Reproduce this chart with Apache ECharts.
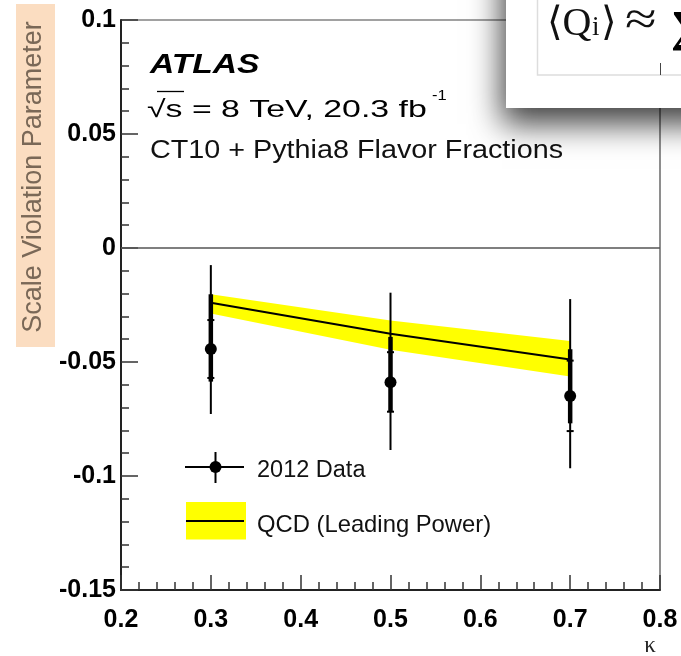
<!DOCTYPE html>
<html>
<head>
<meta charset="utf-8">
<script src="https://cdn.jsdelivr.net/npm/echarts@6/dist/echarts.min.js"></script>
<style>
html,body{margin:0;padding:0;background:#fff;}
#chart{width:681px;height:656px;}
</style>
</head>
<body>
<div id="chart"></div>
<script>
// ---- data ----
const kappa      = [0.3, 0.5, 0.7];
const dataValue  = [-0.0443, -0.0589, -0.0649];
const totalHigh  = [-0.0075, -0.0196, -0.0224];
const totalLow   = [-0.0728, -0.0886, -0.0966];
const sysHigh    = [-0.0203, -0.0390, -0.0444];
const sysLow     = [-0.0586, -0.0718, -0.0769];
const statHigh   = [-0.0316, -0.0457, -0.0494];
const statLow    = [-0.0570, -0.0718, -0.0803];

const qcdKappa   = [0.3, 0.5, 0.7];
const qcdCentral = [-0.0240, -0.0376, -0.0489];
const qcdUpper   = [-0.0203, -0.0318, -0.0408];
const qcdLower   = [-0.0287, -0.0446, -0.0564];

const xTicks = [0.2, 0.3, 0.4, 0.5, 0.6, 0.7, 0.8];
const yTicks = [-0.15, -0.1, -0.05, 0, 0.05, 0.1];

const legendLabels = ['2012 Data', 'QCD (Leading Power)'];
const yTitle = 'Scale Violation Parameter';
const xTitle = 'κ';

// ---- chart ----
const SANS = "'Liberation Sans', Arial, Helvetica, sans-serif";
const SERIF = "'Liberation Serif', 'DejaVu Serif', serif";
const chart = echarts.init(document.getElementById('chart'), null, {renderer: 'canvas'});

function renderBand(params, api) {
  if (params.dataIndex !== 0) return {type: 'group', children: []};
  const pts = [];
  for (let j = 0; j < qcdKappa.length; j++) pts.push(api.coord([qcdKappa[j], qcdUpper[j]]));
  for (let j = qcdKappa.length - 1; j >= 0; j--) pts.push(api.coord([qcdKappa[j], qcdLower[j]]));
  return {type: 'polygon', shape: {points: pts}, style: {fill: '#ffff00'}};
}

function renderData(params, api) {
  const x = api.value(0);
  const c  = api.coord([x, api.value(1)]);
  const tH = api.coord([x, api.value(2)]);
  const tL = api.coord([x, api.value(3)]);
  const sH = api.coord([x, api.value(4)]);
  const sL = api.coord([x, api.value(5)]);
  const qH = api.coord([x, api.value(6)]);
  const qL = api.coord([x, api.value(7)]);
  return {
    type: 'group',
    children: [
      {type: 'line', shape: {x1: tH[0], y1: tH[1], x2: tL[0], y2: tL[1]}, style: {stroke: '#000', lineWidth: 2}},
      {type: 'line', shape: {x1: sH[0], y1: sH[1], x2: sL[0], y2: sL[1]}, style: {stroke: '#000', lineWidth: 4.5}},
      {type: 'line', shape: {x1: c[0] - 3.5, y1: qH[1], x2: c[0] + 3.5, y2: qH[1]}, style: {stroke: '#000', lineWidth: 2}},
      {type: 'line', shape: {x1: c[0] - 3.5, y1: qL[1], x2: c[0] + 3.5, y2: qL[1]}, style: {stroke: '#000', lineWidth: 2}},
      {type: 'circle', shape: {cx: c[0], cy: c[1], r: 6}, style: {fill: '#000'}}
    ]
  };
}

const option = {
  backgroundColor: '#ffffff',
  animation: false,
  grid: {left: 121, top: 20, right: 21, bottom: 66, show: true, borderColor: '#444', borderWidth: 1.2, backgroundColor: 'transparent'},
  xAxis: {
    type: 'value',
    min: xTicks[0], max: xTicks[xTicks.length - 1], interval: 0.1,
    axisLine: {show: true, onZero: false, lineStyle: {color: '#222', width: 2}},
    axisTick: {show: true, inside: true, length: 15, lineStyle: {color: '#333', width: 1.5}},
    minorTick: {show: true, splitNumber: 5, length: 8, lineStyle: {color: '#333', width: 1.5}},
    splitLine: {show: false},
    axisLabel: {margin: 18, color: '#000', fontSize: 25, fontWeight: 'bold', fontFamily: SANS}
  },
  yAxis: {
    type: 'value',
    min: yTicks[0], max: yTicks[yTicks.length - 1], interval: 0.05,
    axisLine: {show: true, onZero: false, lineStyle: {color: '#222', width: 2}},
    axisTick: {show: true, inside: true, length: 17, lineStyle: {color: '#333', width: 1.5}},
    minorTick: {show: true, splitNumber: 5, length: 8, lineStyle: {color: '#333', width: 1.5}},
    splitLine: {show: false},
    axisLabel: {margin: 5, color: '#000', fontSize: 25, fontWeight: 'bold', fontFamily: SANS}
  },
  series: [
    {
      type: 'custom',
      name: legendLabels[1] + ' band',
      renderItem: renderBand,
      data: qcdKappa.map((k, i) => [k, qcdUpper[i], qcdLower[i]]),
      encode: {x: 0, y: [1, 2]},
      z: 2,
      silent: true
    },
    {
      type: 'line',
      name: legendLabels[1],
      data: qcdKappa.map((k, i) => [k, qcdCentral[i]]),
      symbol: 'none',
      lineStyle: {color: '#000', width: 2},
      z: 3,
      silent: true,
      markLine: {
        silent: true, symbol: 'none', label: {show: false},
        lineStyle: {color: '#555', width: 1.5, type: 'solid'},
        data: [{yAxis: 0}]
      }
    },
    {
      type: 'custom',
      name: legendLabels[0],
      renderItem: renderData,
      data: kappa.map((k, i) => [k, dataValue[i], totalHigh[i], totalLow[i], sysHigh[i], sysLow[i], statHigh[i], statLow[i]]),
      encode: {x: 0, y: [1, 2, 3]},
      z: 4,
      silent: true
    }
  ],
  graphic: [
    // y-axis title with highlight
    {type: 'rect', z: 50, shape: {x: 16, y: 4, width: 39, height: 343}, style: {fill: '#fbddc1'}},
    {type: 'text', z: 51, x: 34, y: 177, rotation: Math.PI / 2,
      style: {text: yTitle, font: "27px " + SANS, fill: '#7a6857', align: 'center', verticalAlign: 'middle'}},
    // x-axis title
    {type: 'text', z: 51, x: 650, y: 646,
      style: {text: xTitle, font: "23px " + SERIF, fill: '#222', align: 'center', verticalAlign: 'middle'}},
    // annotations
    {type: 'text', z: 51, x: 150, y: 65, scaleX: 1.2,
      style: {text: 'ATLAS', font: "italic bold 28px " + SANS, fill: '#000', align: 'left', verticalAlign: 'middle'}},
    {type: 'text', z: 51, x: 147, y: 110, scaleX: 1.41,
      style: {text: '√s = 8 TeV, 20.3 fb', font: "24px " + SANS, fill: '#000', align: 'left', verticalAlign: 'middle'}},
    {type: 'line', z: 51, shape: {x1: 157, y1: 91.5, x2: 184, y2: 91.5}, style: {stroke: '#000', lineWidth: 1.3}},
    {type: 'text', z: 51, x: 432, y: 96, scaleX: 1.1,
      style: {text: '-1', font: "15px " + SANS, fill: '#000', align: 'left', verticalAlign: 'middle'}},
    {type: 'text', z: 51, x: 150, y: 151, scaleX: 1.15,
      style: {text: 'CT10 + Pythia8 Flavor Fractions', font: "25px " + SANS, fill: '#111', align: 'left', verticalAlign: 'middle'}},
    // legend: data entry
    {type: 'line', z: 51, shape: {x1: 185, y1: 467, x2: 244, y2: 467}, style: {stroke: '#000', lineWidth: 2}},
    {type: 'line', z: 51, shape: {x1: 215.5, y1: 452, x2: 215.5, y2: 483}, style: {stroke: '#000', lineWidth: 2}},
    {type: 'circle', z: 52, shape: {cx: 215.5, cy: 467, r: 6}, style: {fill: '#000'}},
    {type: 'text', z: 51, x: 257, y: 471,
      style: {text: legendLabels[0], font: "23.5px " + SANS, fill: '#111', align: 'left', verticalAlign: 'middle'}},
    // legend: QCD entry
    {type: 'rect', z: 51, shape: {x: 186, y: 502, width: 60, height: 37.5}, style: {fill: '#ffff00'}},
    {type: 'line', z: 52, shape: {x1: 186, y1: 521, x2: 244, y2: 521}, style: {stroke: '#000', lineWidth: 2}},
    {type: 'text', z: 51, x: 257, y: 525,
      style: {text: legendLabels[1], font: "23.8px " + SANS, fill: '#111', align: 'left', verticalAlign: 'middle'}},
    // overlapping slide box (top right)
    {type: 'rect', z: 100, shape: {x: 506, y: -60, width: 240, height: 168},
      style: {fill: '#fff', shadowBlur: 30, shadowColor: 'rgba(0,0,0,0.75)', shadowOffsetX: -4, shadowOffsetY: 16}},
    {type: 'rect', z: 101, shape: {x: 537.5, y: -60, width: 220, height: 135},
      style: {fill: '#fff', stroke: '#dddddd', lineWidth: 1.5}},
    {type: 'line', z: 102, shape: {x1: 660.5, y1: 63, x2: 660.5, y2: 75}, style: {stroke: '#444', lineWidth: 1}},
    {type: 'text', z: 102, x: 547, y: 24,
      style: {text: '⟨Q', font: "40px " + SERIF, fill: '#111', align: 'left', verticalAlign: 'middle'}},
    {type: 'text', z: 102, x: 592, y: 28,
      style: {text: 'i', font: "27px " + SERIF, fill: '#111', align: 'left', verticalAlign: 'middle'}},
    {type: 'text', z: 102, x: 601, y: 24,
      style: {text: '⟩', font: "40px " + SERIF, fill: '#111', align: 'left', verticalAlign: 'middle'}},
    {type: 'text', z: 102, x: 625, y: 22, scaleX: 1.25,
      style: {text: '≈', font: "46px " + SERIF, fill: '#111', align: 'left', verticalAlign: 'middle'}},
    {type: 'text', z: 102, x: 671, y: 30,
      style: {text: '∑', font: "bold 44px " + SERIF, fill: '#000', align: 'left', verticalAlign: 'middle'}}
  ]
};
chart.setOption(option);
</script>
</body>
</html>
